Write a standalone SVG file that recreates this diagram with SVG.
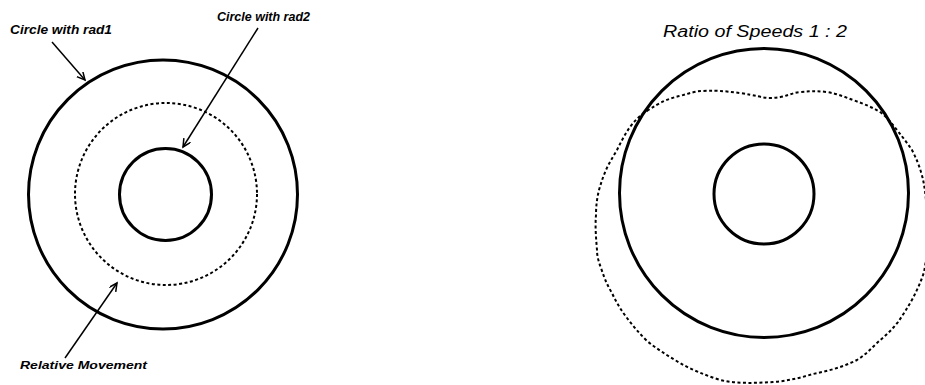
<svg xmlns="http://www.w3.org/2000/svg" width="925" height="385" viewBox="0 0 925 385">
  <style>
    .solid { fill: none; stroke: #000; stroke-width: 3; }
    .dotted { fill: none; stroke: #000; stroke-width: 2; stroke-dasharray: 3 2.5; }
    .lbl { font-family: "Liberation Sans", Arial, sans-serif; font-style: italic; font-weight: bold; fill: #000; }
    .title { font-family: "Liberation Sans", Arial, sans-serif; font-style: italic; fill: #000; }
    .arrow { fill: none; stroke: #000; stroke-width: 1.5; marker-end: url(#head); }
  </style>
  <defs>
    <marker id="head" markerWidth="10" markerHeight="10" refX="8" refY="4" orient="auto" markerUnits="userSpaceOnUse">
      <path d="M0,0 L8,4 L0,8" fill="none" stroke="#000" stroke-width="1.5"/>
    </marker>
  </defs>
  <rect width="925" height="385" fill="#fff"/>

  <!-- Left diagram -->
  <g id="outer-circle-left">
    <circle class="solid" cx="163" cy="194.5" r="134.5"/>
  </g>
  <g id="relative-movement-circle">
    <circle class="dotted" cx="166" cy="194" r="91"/>
  </g>
  <g id="inner-circle-left">
    <circle class="solid" cx="165.5" cy="194.5" r="46"/>
  </g>
  <g id="label-rad1">
    <text class="lbl" x="10" y="34" font-size="12.5" textLength="102" lengthAdjust="spacingAndGlyphs">Circle with rad1</text>
  </g>
  <g id="label-rad2">
    <text class="lbl" x="217" y="21" font-size="12" textLength="93" lengthAdjust="spacingAndGlyphs">Circle with rad2</text>
  </g>
  <g id="label-relative">
    <text class="lbl" x="20" y="369" font-size="11" textLength="127" lengthAdjust="spacingAndGlyphs">Relative Movement</text>
  </g>

  <!-- Right diagram -->
  <g id="title-right">
    <text class="title" x="663" y="37" font-size="16" textLength="184" lengthAdjust="spacingAndGlyphs">Ratio of Speeds 1 : 2</text>
  </g>
  <g id="outer-circle-right">
    <circle class="solid" cx="764" cy="193" r="144.5"/>
  </g>
  <g id="inner-circle-right">
    <circle class="solid" cx="764" cy="194" r="50"/>
  </g>
  <g id="relative-path-right">
    <path class="dotted" d="M647,111 C660,102 670,98 680,96 C690,93 696,91 703,91 C720,90 730,92 740,93 C755,95 762,98 770,98 C785,98 790,93 800,92 C812,91 818,91 827,92 C838,94 845,97 853,100 C864,104 872,107 880,112 C888,118 892,124 897,130 C904,139 908,144 912,150 C916,158 919,165 921,172 C924,182 925,190 926,200 C927,215 928,228 928,240 C927,252 926,262 924,272 C921,282 917,290 913,298 C908,307 903,315 898,322 C892,330 885,336 878,342 C871,349 865,355 857,360 C843,367 828,371 813,374 C800,378 787,381 773,382 C755,383 737,384 720,380 C705,375 692,370 680,363 C668,356 657,349 647,341 C639,333 633,326 627,318 C621,310 616,302 612,293 C607,285 604,277 601,268 C598,260 597,255 597,250 C596,238 595,226 596,215 C596,206 597,198 599,190 C601,183 603,177 606,170 C609,163 613,157 617,150 C621,142 625,134 630,127 C635,120 641,115 647,111 Z"/>
  </g>

  <!-- Connectors -->
  <g id="connectors">
    <line class="arrow" x1="52" y1="42" x2="85" y2="80"/>
    <line class="arrow" x1="258" y1="28" x2="183" y2="147"/>
    <line class="arrow" x1="65" y1="358" x2="117" y2="283"/>
  </g>
</svg>
